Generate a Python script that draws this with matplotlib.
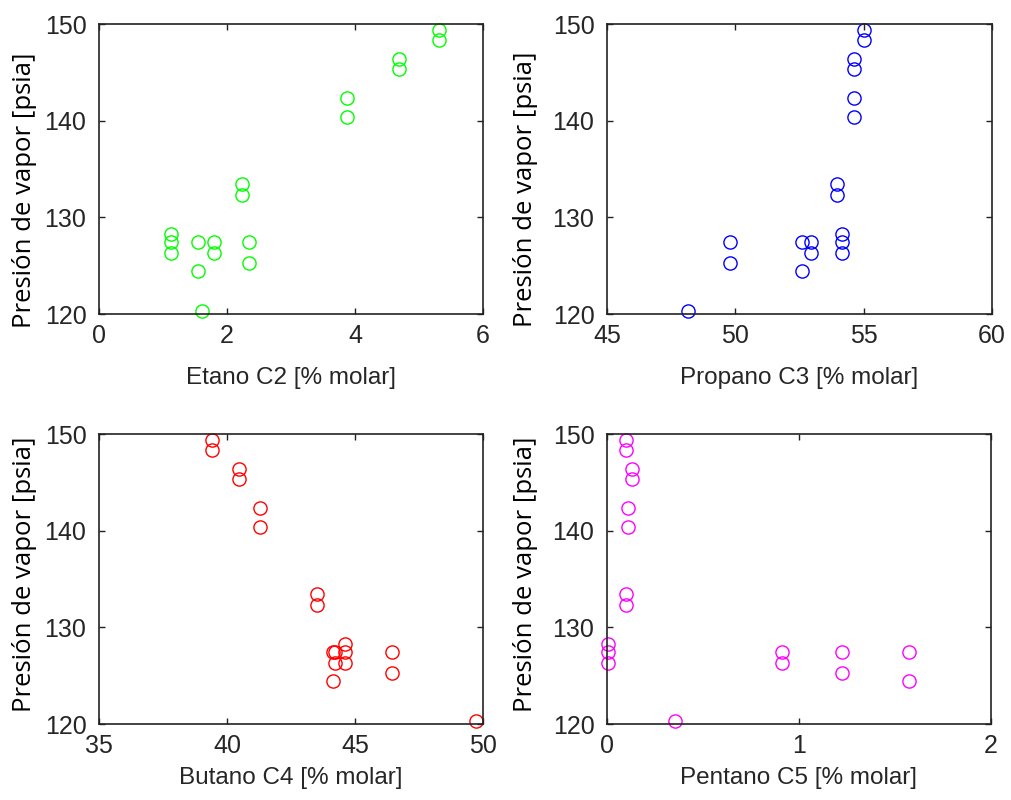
import matplotlib
matplotlib.use("Agg")
import matplotlib.pyplot as plt

# vapour pressure of each sample [psia]
presion = [149.4, 148.3, 146.4, 145.3, 142.3, 140.4, 133.4, 132.3,
           128.3, 127.4, 126.3, 127.4, 126.3, 127.4, 125.3, 127.4, 124.4, 120.3]

# molar composition of each sample [% molar]
etano = [5.31, 5.31, 4.69, 4.69, 3.88, 3.88, 2.24, 2.24,
         1.12, 1.12, 1.12, 1.80, 1.80, 2.35, 2.35, 1.54, 1.54, 1.61]
propano = [55.01, 55.01, 54.61, 54.61, 54.61, 54.61, 53.98, 53.98,
           54.14, 54.14, 54.14, 52.95, 52.95, 49.80, 49.80, 52.61, 52.61, 48.14]
butano = [39.41, 39.41, 40.46, 40.46, 41.27, 41.27, 43.50, 43.50,
          44.61, 44.61, 44.61, 44.20, 44.20, 46.46, 46.46, 44.16, 44.16, 49.74]
pentano = [0.099, 0.099, 0.128, 0.128, 0.109, 0.109, 0.099, 0.099,
           0.003, 0.003, 0.003, 0.911, 0.911, 1.223, 1.223, 1.575, 1.575, 0.356]

series = [
    (etano, "Etano C2 [% molar]", (0, 6), [0, 2, 4, 6], "#00ff00"),
    (propano, "Propano C3 [% molar]", (45, 60), [45, 50, 55, 60], "#0000ff"),
    (butano, "Butano C4 [% molar]", (35, 50), [35, 40, 45, 50], "#ff0000"),
    (pentano, "Pentano C5 [% molar]", (0, 2), [0, 1, 2], "#ff00ff"),
]

W, H = 1011, 800
fig = plt.figure(figsize=(W / 100, H / 100), dpi=100)
fig.patch.set_facecolor("white")

# pixel boxes: left, top, right, bottom
boxes = [(99, 24, 483, 314), (607, 24, 992, 314),
         (99, 434, 483, 724), (607, 434, 991, 724)]
# label centres in pixels: (ylabel x, ylabel y, xlabel y)
label_px = [(25, 190, 378), (525, 189, 378),
            (25, 574, 778), (525, 574, 778)]

txt = "#262626"
for (xs, xlabel, xlim, xticks, color), (l, t, r, b), (lx, ly, xy) in zip(series, boxes, label_px):
    ax = fig.add_axes([l / W, 1 - b / H, (r - l) / W, (b - t) / H])
    ax.plot(xs, presion, linestyle="none", marker="o", markersize=9.5,
            markerfacecolor="none", markeredgecolor=color, markeredgewidth=1.0,
            clip_on=False)
    ax.set_xlim(*xlim)
    ax.set_ylim(120, 150)
    ax.set_xticks(xticks)
    ax.set_yticks([120, 130, 140, 150])
    ax.tick_params(direction="in", length=4, width=1, top=True, right=True,
                   labelsize=18, colors="#222222", labelcolor=txt)
    ax.tick_params(axis="y", pad=9)
    ax.tick_params(axis="x", pad=7)
    for lab in ax.get_xticklabels() + ax.get_yticklabels():
        lab.set_family("Liberation Sans")
    for s in ax.spines.values():
        s.set_linewidth(1.2)
        s.set_color("#222222")
    ax.set_xlabel(xlabel, fontsize=17.5, family="Liberation Sans", color=txt, va="center")
    ax.set_ylabel("Presión de vapor [psia]", fontsize=18.5, family="Open Sans",
                  color="black", va="center")
    ax.xaxis.set_label_coords(0.5, (b - xy) / (b - t))
    ax.yaxis.set_label_coords((lx - l) / (r - l), (b - ly) / (b - t))

fig.savefig("out.png", dpi=100)
